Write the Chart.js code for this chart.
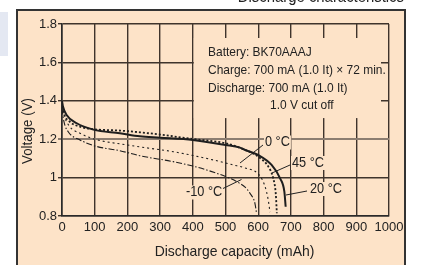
<!DOCTYPE html>
<html>
<head>
<meta charset="utf-8">
<script src="https://cdn.jsdelivr.net/npm/chart.js@4/dist/chart.umd.min.js"></script>
<style>
html,body{margin:0;padding:0;background:#fff;}
#wrap{position:relative;width:423px;height:265px;overflow:hidden;}
canvas{position:absolute;left:0;top:0;}
</style>
</head>
<body>
<div id="wrap"><canvas id="c" width="423" height="265"></canvas></div>
<script>
// ---- data ----
const xTicks = [0,100,200,300,400,500,600,700,800,900,1000];
const yTicks = [0.8,1.0,1.2,1.4,1.6,1.8];

const cap20  = [0,3,14,45,96,177,238,300,400,500,544,560,600,641,667,680,684];
const volt20 = [1.40,1.37,1.326,1.283,1.250,1.231,1.215,1.208,1.196,1.170,1.156,1.144,1.118,1.066,0.996,0.927,0.848];

const cap45  = [0,6,24,55,96,177,238,300,400,500,544,600,631,646,654,657];
const volt45 = [1.39,1.335,1.291,1.265,1.252,1.245,1.236,1.224,1.201,1.179,1.155,1.109,1.057,0.996,0.91,0.814];

const cap0   = [0,8,24,55,100,200,238,340,442,524,560,600,615,625,632,636];
const volt0  = [1.38,1.317,1.265,1.231,1.200,1.170,1.160,1.135,1.100,1.066,1.050,1.020,0.980,0.930,0.870,0.820];

const capM10  = [0,6,19,55,100,177,238,340,400,442,514,544,560,575,590,595];
const voltM10 = [1.36,1.291,1.239,1.196,1.165,1.140,1.114,1.083,1.060,1.040,0.996,0.970,0.950,0.918,0.866,0.814];

const seriesNames = ['20 °C','45 °C','0 °C','-10 °C'];
const titleText = 'Discharge characteristics';
const xTitle = 'Discharge capacity (mAh)';
const yTitle = 'Voltage (V)';
const noteLines = ['Battery: BK70AAAJ','Charge: 700 mA (1.0 It) × 72 min.','Discharge: 700 mA (1.0 It)','1.0 V cut off'];

// ---- build ----
const pts = (xs, ys) => xs.map((x,i)=>({x:x,y:ys[i]}));
const PEACH = '#fde3c8';
const INK = '#222';
const GRID = '#3f342c';
const FONT = '"Liberation Sans", Arial, Helvetica, sans-serif';

// condensed text helper
function txt(c, s, x, y, size, sx, align){
  c.save();
  c.font = size + 'px ' + FONT;
  c.textAlign = align || 'left';
  c.textBaseline = 'middle';
  c.translate(x, y); c.scale(sx, 1);
  c.fillText(s, 0, 0);
  const w = c.measureText(s).width * sx;
  c.restore();
  return w;
}

const deco = {
  id:'deco',
  beforeDraw(chart){
    const c = chart.ctx;
    c.save();
    c.fillStyle = '#fff'; c.fillRect(0,0,423,265);
    c.fillStyle = '#e4e8f2'; c.fillRect(0,12,8,44);
    c.fillStyle = PEACH; c.fillRect(16,9,390,262);
    c.strokeStyle = '#333'; c.lineWidth = 2; c.strokeRect(17,10,388,270);
    c.fillStyle = INK; c.font = '16px ' + FONT; c.textAlign = 'right'; c.textBaseline = 'alphabetic';
    c.translate(404, 2); c.scale(0.93,1); c.fillText(titleText, 0, 0);
    c.restore();
  },
  beforeDatasetsDraw(chart){
    const c = chart.ctx, xs = chart.scales.x, ys = chart.scales.y;
    c.save();
    // panel that hides the grid behind the test conditions
    const l = xs.getPixelForValue(400)+1, r = xs.getPixelForValue(1000)-8;
    const t = ys.getPixelForValue(1.8)+14, b = ys.getPixelForValue(1.31);
    c.fillStyle = PEACH; c.fillRect(l,t,r-l,b-t);
    // notes
    c.fillStyle = INK;
    txt(c, noteLines[0], 208, 52, 13, 0.92);
    txt(c, noteLines[1], 208, 70, 13, 0.92);
    txt(c, noteLines[2], 208, 88.5, 13, 0.92);
    txt(c, noteLines[3], 270, 105, 13, 0.92);
    // axis titles
    txt(c, xTitle, 234.5, 252, 15, 0.93, 'center');
    c.save(); c.translate(28,131); c.rotate(-Math.PI/2);
    txt(c, yTitle, 0, 0, 14.5, 0.92, 'center');
    c.restore();
    // curve labels with leader lines
    const labs = [
      {t:seriesNames[2], x:265, y:142.5, lx:[263,145,240,163]},
      {t:seriesNames[1], x:292, y:163, lx:[290,165,272,173]},
      {t:seriesNames[0], x:310, y:189, lx:[307,191,286,195]},
      {t:seriesNames[3], x:186, y:192.5, lx:[223,188.5,241.5,179.5]}
    ];
    labs.forEach(o=>{
      c.font = '14px ' + FONT;
      const w = c.measureText(o.t).width * 0.91;
      c.fillStyle = PEACH; c.fillRect(o.x-1,o.y-7,w+2,14);
      c.fillStyle = INK; txt(c, o.t, o.x, o.y, 14, 0.91);
      c.strokeStyle = INK; c.lineWidth = 1; c.beginPath();
      c.moveTo(o.lx[0],o.lx[1]); c.lineTo(o.lx[2],o.lx[3]); c.stroke();
    });
    c.restore();
  }
};

const base = {pointRadius:0, fill:false, cubicInterpolationMode:'monotone', borderColor:'#1e1e1e'};
new Chart(document.getElementById('c'), {
  type:'line',
  data:{datasets:[
    Object.assign({label:seriesNames[0], data:pts(cap20,volt20), borderWidth:2}, base),
    Object.assign({label:seriesNames[1], data:pts(cap45,volt45), borderWidth:1.8, borderDash:[2,2]}, base),
    Object.assign({label:seriesNames[2], data:pts(cap0,volt0), borderWidth:1.1, borderDash:[2,3]}, base),
    Object.assign({label:seriesNames[3], data:pts(capM10,voltM10), borderWidth:1.1, borderDash:[6,2,1.5,2]}, base)
  ]},
  options:{
    responsive:false, animation:false, devicePixelRatio:1,
    layout:{padding:{top:24,right:34,left:0,bottom:0}},
    plugins:{legend:{display:false}, tooltip:{enabled:false}, title:{display:false}},
    scales:{
      x:{type:'linear', min:0, max:1000,
        afterBuildTicks:(s)=>{ s.ticks = xTicks.map(v=>({value:v})); },
        afterFit:(s)=>{ s.height = 49; },
        ticks:{color:INK, font:{family:FONT, size:13}, padding:4, maxRotation:0, autoSkip:false, callback:(v)=>String(v)},
        grid:{color:GRID, lineWidth:1.4, drawTicks:false},
        border:{color:'#2a2a2a', width:1.6}
      },
      y:{type:'linear', min:0.8, max:1.8,
        afterBuildTicks:(s)=>{ s.ticks = yTicks.map(v=>({value:v})); },
        afterFit:(s)=>{ s.width = 62; },
        ticks:{color:INK, font:{family:FONT, size:13}, padding:1, autoSkip:false,
          callback:(v)=> Math.abs(v-1)<1e-9 ? '1' : Number(v).toFixed(1)},
        grid:{tickLength:4,
          color:(ctx)=> ctx.tick && Math.abs(ctx.tick.value-1.2)<1e-6 ? '#8c7d70' : GRID,
          lineWidth:(ctx)=> ctx.tick && Math.abs(ctx.tick.value-1.2)<1e-6 ? 2 : 1.4},
        border:{color:'#2a2a2a', width:1.6}
      }
    }
  },
  plugins:[deco]
});
</script>
</body>
</html>
